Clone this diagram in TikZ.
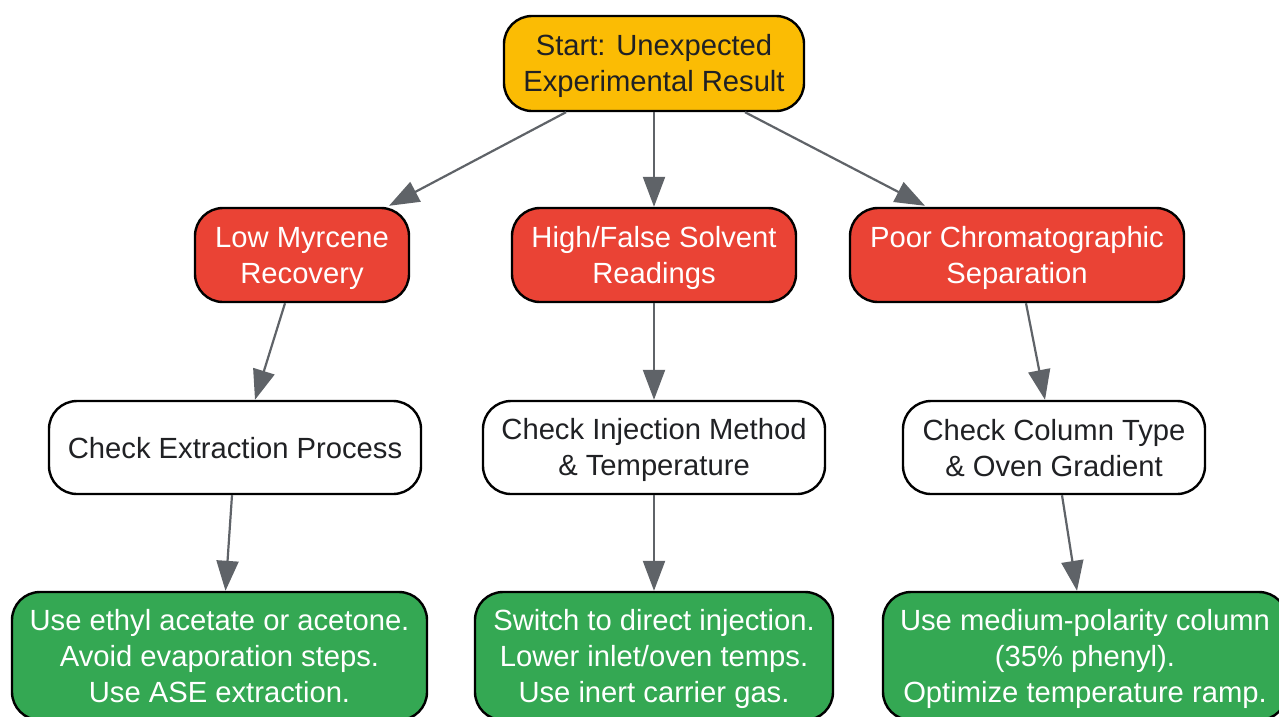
\documentclass[tikz,border=0pt]{standalone}
\usepackage{fontspec}
\setmainfont{Liberation Sans}
\usetikzlibrary{arrows.meta}
\definecolor{cstart}{HTML}{FBBC04}
\definecolor{cprob}{HTML}{EA4335}
\definecolor{csol}{HTML}{34A853}
\definecolor{cedge}{HTML}{5F6368}
\definecolor{ctext}{HTML}{202124}
\newcommand\sst{\rule[-6pt]{0pt}{33pt}}
\tikzset{
  box/.style={draw=black, line width=2.4pt, rounded corners=28pt, align=center, inner sep=0pt,
    font=\fontsize{29.2pt}{36pt}\selectfont},
  startbox/.style={box, fill=cstart, text=ctext},
  probbox/.style={box, fill=cprob, text=white},
  checkbox/.style={box, fill=white, text=ctext},
  solbox/.style={box, fill=csol, text=white},
  conn/.style={draw=cedge, line width=2.2pt, -{Triangle[length=30pt,width=22pt]}}
}
\begin{document}
\begin{tikzpicture}[x=1pt,y=1pt]
\useasboundingbox (0,0) rectangle (1279,-716);
\clip (0,0) rectangle (1279,-716);
\node[startbox, minimum width=300pt, minimum height=95pt] (start) at (654,-63.5) {\sst Start: Unexpected\\\sst Experimental Result};
\node[probbox, minimum width=214pt, minimum height=94pt] (low) at (302,-255) {\sst Low Myrcene\\\sst Recovery};
\node[probbox, minimum width=284pt, minimum height=94pt] (high) at (654,-255) {\sst High/False Solvent\\\sst Readings};
\node[probbox, minimum width=334pt, minimum height=94pt] (poor) at (1017,-255) {\sst Poor Chromatographic\\\sst Separation};
\node[checkbox, minimum width=372pt, minimum height=93pt] (ext) at (235,-447.5) {\sst Check Extraction Process};
\node[checkbox, minimum width=342pt, minimum height=93pt] (inj) at (654,-447.5) {\sst Check Injection Method\\\sst \& Temperature};
\node[checkbox, minimum width=302pt, minimum height=93pt] (col) at (1054,-447.5) {\sst Check Column Type\\\sst \& Oven Gradient};
\node[solbox, minimum width=415pt, minimum height=128pt] (s1) at (219.5,-656) {\sst Use ethyl acetate or acetone.\\\sst Avoid evaporation steps.\\\sst Use ASE extraction.};
\node[solbox, minimum width=358pt, minimum height=128pt] (s2) at (654,-656) {\sst Switch to direct injection.\\\sst Lower inlet/oven temps.\\\sst Use inert carrier gas.};
\node[solbox, minimum width=404pt, minimum height=128pt] (s3) at (1085,-656) {\sst Use medium-polarity column\\\sst (35\% phenyl).\\\sst Optimize temperature ramp.};
\draw[conn] ([xshift=-88pt]start.south) -- ([xshift=87pt,yshift=1pt]low.north);
\draw[conn] (start.south) -- (high.north);
\draw[conn] ([xshift=91pt]start.south) -- ([xshift=-92pt,yshift=1pt]poor.north);
\draw[conn] ([xshift=-17pt]low.south) -- ([xshift=20pt]ext.north);
\draw[conn] (high.south) -- (inj.north);
\draw[conn] ([xshift=9pt]poor.south) -- ([xshift=-9pt]col.north);
\draw[conn] ([xshift=-3pt]ext.south) -- ([xshift=6pt]s1.north);
\draw[conn] (inj.south) -- (s2.north);
\draw[conn] ([xshift=8pt]col.south) -- ([xshift=-8pt]s3.north);
\end{tikzpicture}
\end{document}
